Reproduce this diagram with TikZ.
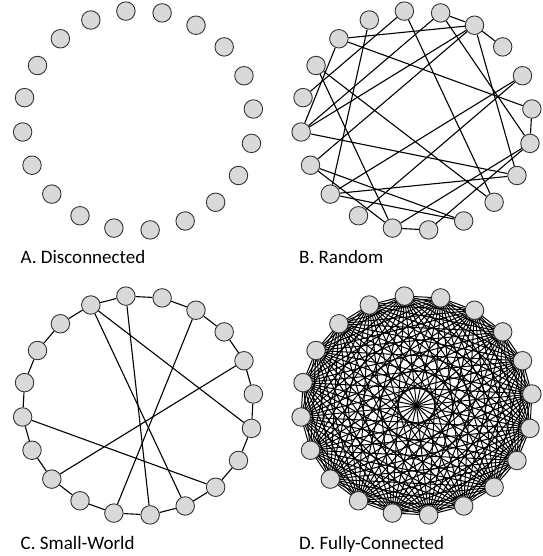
\documentclass[tikz,border=0pt]{standalone}
\usepackage{fontspec}
\setmainfont{Carlito}
\usetikzlibrary{backgrounds}
\begin{document}
\begin{tikzpicture}[x=1pt,y=1pt,
        nodo/.style={circle,draw=black!80,line width=0.9pt,fill=black!15,minimum size=18.5pt,inner sep=0pt},
        arista/.style={line width=1.1pt},
        completa/.style={line width=1pt},
        etiqueta/.style={anchor=base west,inner sep=0pt,font=\fontsize{19}{22}\selectfont}]
    \useasboundingbox (0,0) rectangle (542,-556);
    % Nodos de las cuatro redes
    \foreach \red/\cx/\cy in {a/138/-120.5, b/416.5/-120.5, c/138/-405.5, d/416.5/-405.5}{
        \foreach \k in {1,...,20}{
            \path (\cx,\cy) ++({96-18*(\k-1)}:116pt and 110pt) node[nodo] (\red\k) {};
        }
    }
    \begin{pgfonlayer}{background}
        % Red aleatoria
        \foreach \i/\j in {19/3, 2/3, 3/4, 3/8, 2/7, 1/17, 1/9, 20/14, 19/6, 19/16,
                18/12, 18/9, 3/16, 3/15, 2/16, 16/8, 14/8, 5/14, 5/13, 6/7,
                7/12, 7/11, 11/12, 15/10, 15/12, 14/10}
            \draw[arista] (b\i) -- (b\j);
        % Red de mundo pequeno: anillo y atajos
        \foreach \k in {1,...,20}{
            \pgfmathtruncatemacro\sig{mod(\k,20)+1}
            \draw[arista] (c\k) -- (c\sig);
        }
        \foreach \i/\j in {20/10, 20/7, 1/11, 3/12, 5/14, 16/9}
            \draw[arista] (c\i) -- (c\j);
        % Red completamente conectada
        \foreach \i in {1,...,19}{
            \pgfmathtruncatemacro\sig{\i+1}
            \foreach \j in {\sig,...,20}
                \draw[completa] (d\i.center) -- (d\j.center);
        }
    \end{pgfonlayer}
    % Etiquetas
    \node[etiqueta] (ta) at (20.5,-263) {A. Disconnected};
    \node[etiqueta] (tb) at (299,-263) {B. Random};
    \node[etiqueta] (tc) at (20.5,-549) {C. Small-World};
    \node[etiqueta] (td) at (299,-549) {D. Fully-Connected};
\end{tikzpicture}
\end{document}
